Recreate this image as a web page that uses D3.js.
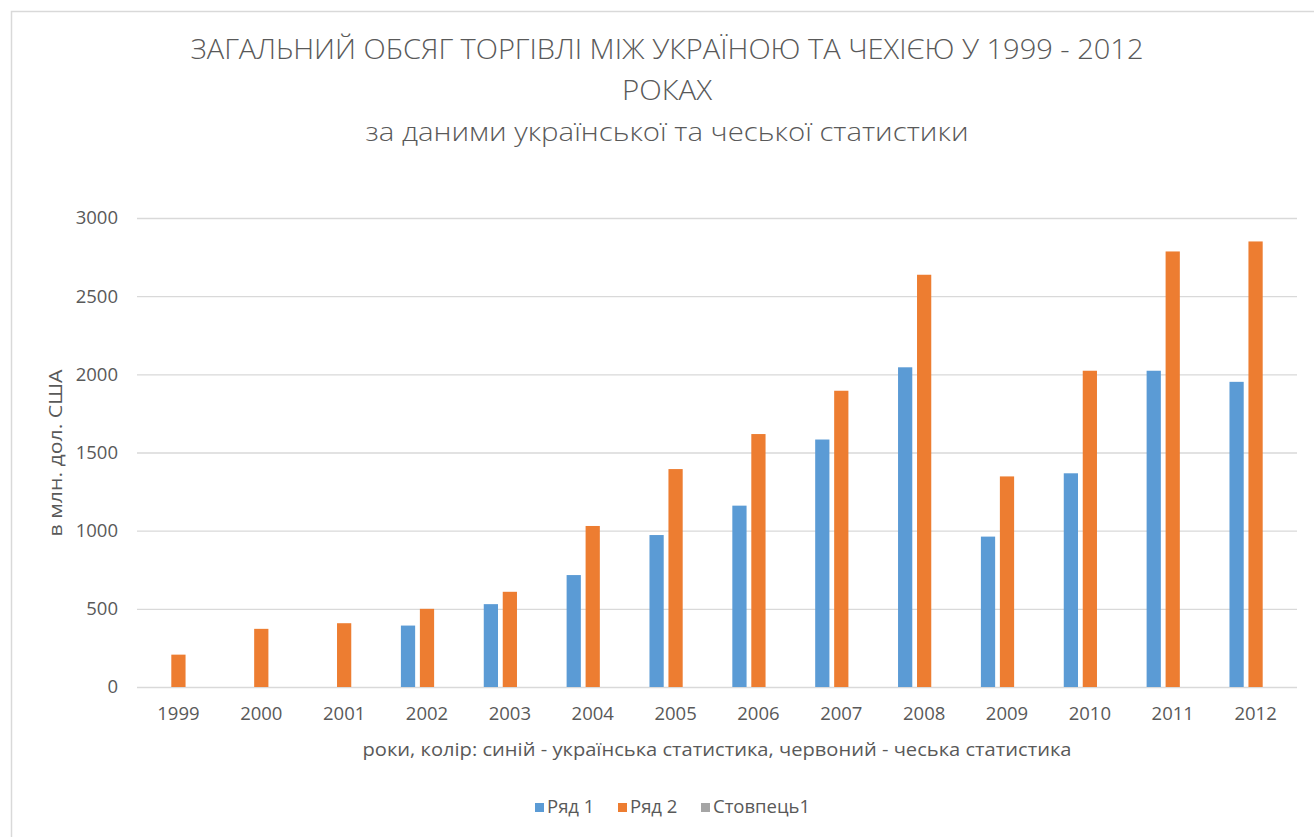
<!DOCTYPE html>
<html>
<head>
<meta charset="utf-8">
<script src="https://cdn.jsdelivr.net/npm/d3@7"></script>
<style>
  body { margin: 0; background: #fff; }
  svg text { font-family: "Open Sans", "Noto Sans", sans-serif; fill: #595959; }
</style>
</head>
<body>
<svg id="chart" width="1314" height="837"></svg>
<script>
// data
var years = ["1999","2000","2001","2002","2003","2004","2005","2006","2007","2008","2009","2010","2011","2012"];
var series = ["Ряд 1", "Ряд 2", "Стовпець1"];
var ukrStat = [null, null, null, 393, 530, 716, 972, 1160, 1583, 2045, 962, 1367, 2023, 1952];
var czStat  = [207, 372, 408, 500, 609, 1030, 1394, 1618, 1895, 2637, 1347, 2023, 2786, 2850];
var col1    = [null, null, null, null, null, null, null, null, null, null, null, null, null, null];
var yTicks = [0, 500, 1000, 1500, 2000, 2500, 3000];
var colors = ["#5B9BD5", "#ED7D31", "#A5A5A5"];

var svg = d3.select("#chart");
var plot = {left: 137, right: 1297, top: 218, bottom: 687};

// chart frame (cut off at right/bottom like the screenshot)
svg.append("rect")
    .attr("x", 11.5).attr("y", 11.5)
    .attr("width", 1320).attr("height", 840)
    .attr("fill", "none").attr("stroke", "#d9d9d9").attr("stroke-width", 1.5);

// scales
var x0 = d3.scaleBand().domain(years)
    .range([plot.left, plot.right])
    .paddingInner(0.37).paddingOuter(0.185);
var x1 = d3.scaleBand().domain(series)
    .range([0, x0.bandwidth()])
    .paddingInner(0.25);
var y = d3.scaleLinear().domain([0, 3000]).range([plot.bottom, plot.top]);

// grid
var yAxis = d3.axisLeft(y).tickValues(yTicks).tickFormat(d3.format("d"))
    .tickSize(-(plot.right - plot.left)).tickPadding(19);
var gy = svg.append("g")
    .attr("transform", "translate(" + plot.left + ",0)")
    .call(yAxis);
gy.select(".domain").remove();
gy.selectAll("line").attr("stroke", "#d9d9d9").attr("stroke-width", 1.3);
gy.selectAll("text").style("font-size", "18.5px").attr("fill", "#595959");

// bars
var table = years.map(function(yr, i){
    return {year: yr, vals: [ukrStat[i], czStat[i], col1[i]]};
});
var groups = svg.selectAll(".grp")
    .data(table)
    .enter().append("g")
    .attr("class", "grp")
    .attr("transform", function(d){ return "translate(" + x0(d.year) + ",0)"; });
groups.selectAll("rect")
    .data(function(d){
        return d.vals.map(function(v, k){ return {s: series[k], v: v, k: k}; })
            .filter(function(e){ return e.v != null; });
    })
    .enter().append("rect")
    .attr("x", function(d){ return x1(d.s); })
    .attr("width", x1.bandwidth())
    .attr("y", function(d){ return y(d.v); })
    .attr("height", function(d){ return y(0) - y(d.v); })
    .attr("fill", function(d){ return colors[d.k]; });

// x axis
var xAxis = d3.axisBottom(x0).tickSize(0).tickPadding(20);
var gx = svg.append("g")
    .attr("transform", "translate(0," + plot.bottom + ")")
    .call(xAxis);
gx.select(".domain").remove();
gx.selectAll("text").style("font-size", "18.5px").attr("fill", "#595959");

// titles
svg.append("text")
    .attr("x", 667).attr("y", 59)
    .attr("text-anchor", "middle")
    .attr("textLength", 953).attr("lengthAdjust", "spacingAndGlyphs")
    .style("font-size", "27px").style("font-weight", 300)
    .text("ЗАГАЛЬНИЙ ОБСЯГ ТОРГІВЛІ МІЖ УКРАЇНОЮ ТА ЧЕХІЄЮ У 1999 - 2012");
svg.append("text")
    .attr("x", 667).attr("y", 100)
    .attr("text-anchor", "middle")
    .attr("textLength", 90).attr("lengthAdjust", "spacingAndGlyphs")
    .style("font-size", "27px").style("font-weight", 300)
    .text("РОКАХ");
svg.append("text")
    .attr("x", 667).attr("y", 141)
    .attr("text-anchor", "middle")
    .attr("textLength", 603).attr("lengthAdjust", "spacingAndGlyphs")
    .style("font-size", "26px").style("font-weight", 350)
    .text("за даними української та чеської статистики");

// axis titles
svg.append("text")
    .attr("transform", "translate(62,453) rotate(-90)")
    .attr("text-anchor", "middle")
    .attr("textLength", 167).attr("lengthAdjust", "spacingAndGlyphs")
    .style("font-size", "18px")
    .text("в млн. дол. США");
svg.append("text")
    .attr("x", 717).attr("y", 756)
    .attr("text-anchor", "middle")
    .attr("textLength", 709).attr("lengthAdjust", "spacingAndGlyphs")
    .style("font-size", "19px")
    .text("роки, колір: синій - українська статистика, червоний - чеська статистика");

// legend
var legX = [535, 618, 701];
var leg = svg.selectAll(".leg")
    .data(series)
    .enter().append("g")
    .attr("class", "leg")
    .attr("transform", function(d, i){ return "translate(" + legX[i] + ",803)"; });
leg.append("rect")
    .attr("width", 9).attr("height", 9)
    .attr("fill", function(d, i){ return colors[i]; });
leg.append("text")
    .attr("x", 12).attr("y", 10)
    .style("font-size", "18.5px")
    .text(function(d){ return d; });
</script>
</body>
</html>
